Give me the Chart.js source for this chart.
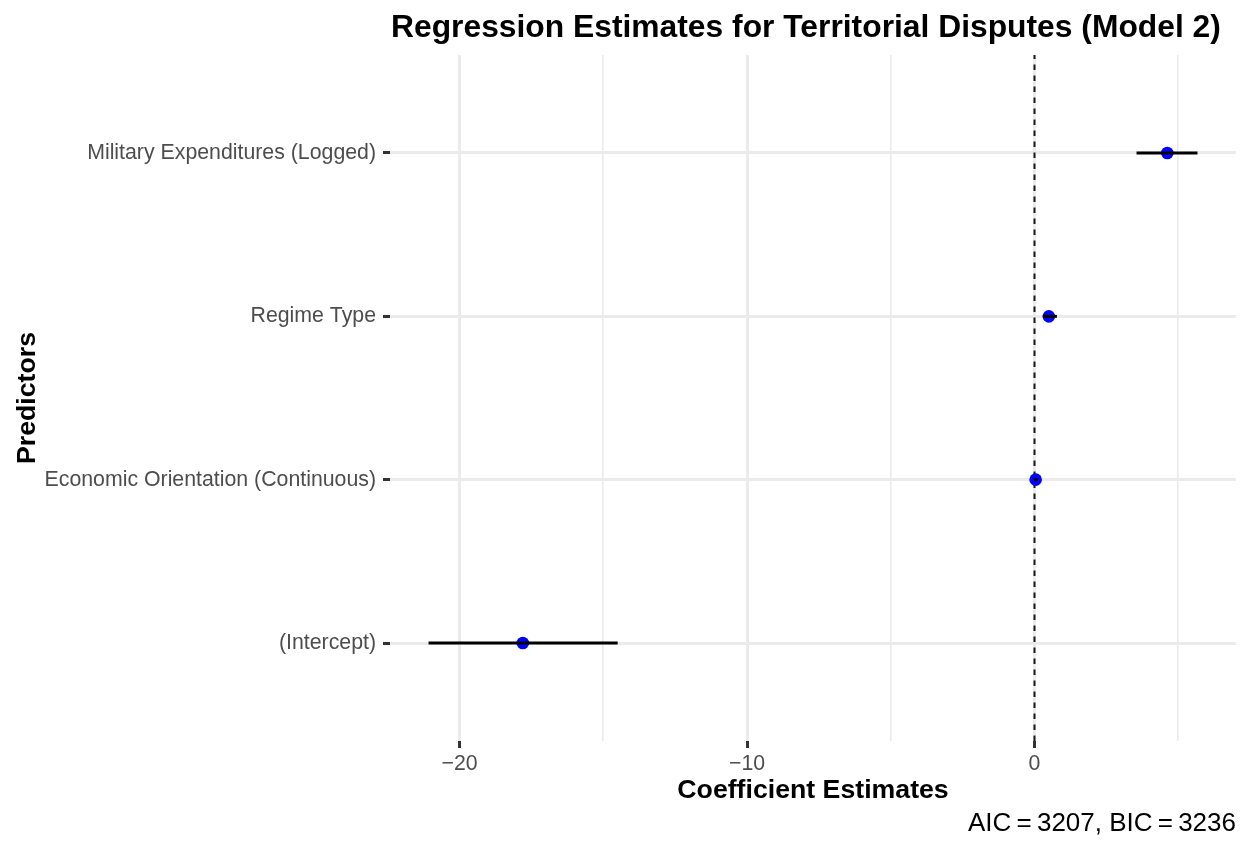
<!DOCTYPE html>
<html>
<head>
<meta charset="utf-8">
<script src="https://cdn.jsdelivr.net/npm/chart.js@4.4.1/dist/chart.umd.min.js"></script>
<style>
  html, body { margin: 0; padding: 0; background: #ffffff; }
  #c { display: block; }
</style>
</head>
<body>
<canvas id="c" width="1249" height="846" style="width:1249px;height:846px"></canvas>
<script>
// ---- data ----
const predictors = ["(Intercept)", "Economic Orientation (Continuous)", "Regime Type", "Military Expenditures (Logged)"];
const estimates = [-17.8, 0.04, 0.5, 4.62];
const lowerCI   = [-21.08, -0.02, 0.29, 3.55];
const upperCI   = [-14.5, 0.12, 0.78, 5.67];
const xMajorTicks = [-20, -10, 0];
const xMinorTicks = [-15, -5, 5];
const refLineX = 0;
const titleText = "Regression Estimates for Territorial Disputes (Model 2)";
const xTitle = "Coefficient Estimates";
const yTitle = "Predictors";
const captionText = "AIC\u2009=\u20093207, BIC\u2009=\u20093236";

const FONT = '"Liberation Sans", Arial, Helvetica, sans-serif';
const xMin = -22.42, xMax = 7.01, yMin = 0.4, yMax = 4.6;

const errorDatasets = predictors.map((p, i) => ({
  type: 'scatter',
  label: p + ' CI',
  data: [{x: lowerCI[i], y: i + 1}, {x: upperCI[i], y: i + 1}],
  showLine: true,
  borderColor: '#000000',
  borderWidth: 3,
  pointRadius: 0,
  pointHoverRadius: 0,
  order: 0
}));

const pointDataset = {
  type: 'scatter',
  label: 'Estimate',
  data: estimates.map((v, i) => ({x: v, y: i + 1})),
  backgroundColor: '#0000FF',
  borderColor: '#0000FF',
  borderWidth: 0,
  pointRadius: 6.3,
  pointHoverRadius: 6.3,
  order: 1
};

const refDataset = {
  type: 'scatter',
  label: 'zero',
  data: [{x: refLineX, y: yMin}, {x: refLineX, y: yMax}],
  showLine: true,
  borderColor: '#1a1a1a',
  borderWidth: 2,
  borderDash: [5.5, 5.5],
  pointRadius: 0,
  pointHoverRadius: 0,
  order: 2
};

const textPlugin = {
  id: 'textPlugin',
  afterDraw(chart) {
    const {ctx, chartArea} = chart;
    ctx.save();
    ctx.fillStyle = '#000000';
    ctx.textBaseline = 'alphabetic';
    ctx.font = 'bold 31.8px ' + FONT;
    ctx.textAlign = 'left';
    ctx.fillText(titleText, chartArea.left + 1, 37);
    ctx.font = '26px ' + FONT;
    ctx.textAlign = 'right';
    ctx.fillText(captionText, chartArea.right, 831);
    ctx.restore();
  }
};

const allX = xMajorTicks.concat(xMinorTicks).sort((a, b) => a - b);
const isMajor = v => xMajorTicks.includes(v);

new Chart(document.getElementById('c'), {
  type: 'scatter',
  data: { datasets: errorDatasets.concat([pointDataset, refDataset]) },
  options: {
    responsive: false,
    animation: false,
    devicePixelRatio: 1,
    layout: { padding: { top: 55, right: 13, bottom: 39, left: 0 } },
    plugins: {
      legend: { display: false },
      tooltip: { enabled: false },
      title: { display: false }
    },
    scales: {
      x: {
        type: 'linear',
        min: xMin, max: xMax,
        afterBuildTicks: s => { s.ticks = allX.map(v => ({value: v})); },
        afterFit: s => { s.height = 66; },
        ticks: {
          autoSkip: false,
          maxRotation: 0,
          padding: 3,
          color: '#4D4D4D',
          font: { family: FONT, size: 21.3 },
          callback: v => isMajor(v) ? (v < 0 ? '\u2212' + Math.abs(v) : String(v)) : ''
        },
        grid: {
          color: '#EBEBEB',
          lineWidth: c => (c.tick && isMajor(c.tick.value)) ? 3 : 1.6,
          tickLength: 7,
          tickColor: c => (c.tick && isMajor(c.tick.value)) ? '#333333' : 'rgba(0,0,0,0)',
          tickWidth: 3
        },
        border: { display: false },
        title: {
          display: true,
          text: xTitle,
          color: '#000000',
          font: { family: FONT, size: 26.7, weight: 'bold' },
          padding: { top: 0, bottom: 0 }
        }
      },
      y: {
        type: 'linear',
        min: yMin, max: yMax,
        afterBuildTicks: s => { s.ticks = predictors.map((p, i) => ({value: i + 1})); },
        afterFit: s => { s.width = 390; },
        ticks: {
          autoSkip: false,
          padding: 7,
          color: '#4D4D4D',
          font: { family: FONT, size: 21.3 },
          callback: v => predictors[Math.round(v) - 1] || ''
        },
        grid: {
          color: '#EBEBEB',
          lineWidth: 3,
          tickLength: 7,
          tickColor: '#333333',
          tickWidth: 3
        },
        border: { display: false },
        title: {
          display: true,
          text: yTitle,
          color: '#000000',
          font: { family: FONT, size: 26.7, weight: 'bold' },
          padding: { top: 12, bottom: 0 }
        }
      }
    }
  },
  plugins: [textPlugin]
});
</script>
</body>
</html>
